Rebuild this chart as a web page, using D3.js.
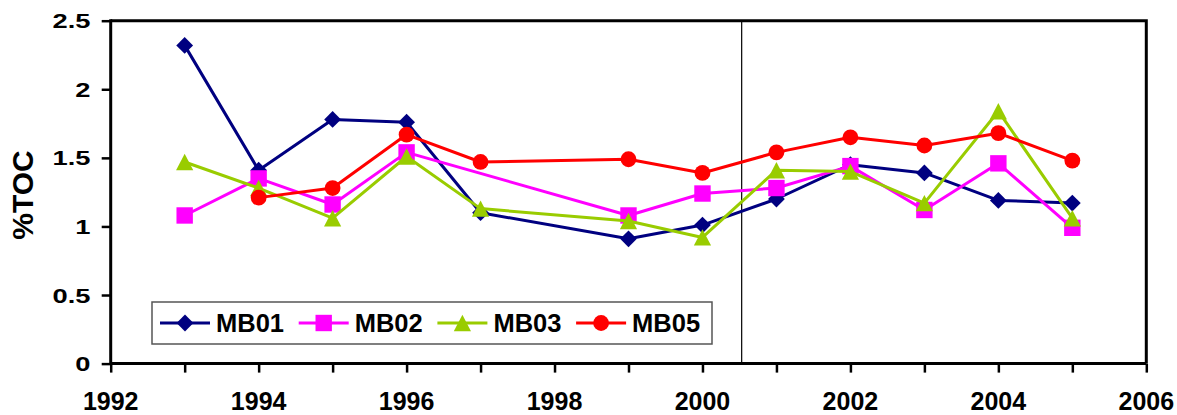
<!DOCTYPE html>
<html>
<head>
<meta charset="utf-8">
<script src="https://cdn.jsdelivr.net/npm/d3@7"></script>
<style>
  html, body { margin: 0; padding: 0; background: #fff; }
  svg { display: block; }
  text { font-family: "Liberation Sans", Arial, sans-serif; font-weight: bold; fill: #000; }
</style>
</head>
<body>
<svg id="chart" width="1177" height="415"></svg>
<script>
// ---- data ----
const years = [1993, 1994, 1995, 1996, 1997, 1999, 2000, 2001, 2002, 2003, 2004, 2005];
const seriesNames = ["MB01", "MB02", "MB03", "MB05"];
const mb01 = [2.32, 1.41, 1.78, 1.76, 1.10, 0.91, 1.01, 1.20, 1.45, 1.39, 1.19, 1.17];
const mb02 = [1.08, 1.35, 1.16, 1.54, null, 1.08, 1.24, 1.28, 1.44, 1.12, 1.46, 0.99];
const mb03 = [1.47, 1.28, 1.06, 1.51, 1.13, 1.04, 0.92, 1.41, 1.40, 1.17, 1.84, 1.06];
const mb05 = [null, 1.21, 1.28, 1.67, 1.47, 1.49, 1.39, 1.54, 1.65, 1.59, 1.68, 1.48];
const xTickYears = [1992, 1993, 1994, 1995, 1996, 1997, 1998, 1999, 2000, 2001, 2002, 2003, 2004, 2005, 2006];
const xLabelYears = [1992, 1994, 1996, 1998, 2000, 2002, 2004, 2006];
const yTicks = [0, 0.5, 1, 1.5, 2, 2.5];
const dividerYear = 2000.53;
const yTitle = "%TOC";

// ---- styles ----
const colors = { MB01: "#000080", MB02: "#FF00FF", MB03: "#99CC00", MB05: "#FF0000" };
const shapes = { MB01: "diamond", MB02: "square", MB03: "triangle", MB05: "circle" };
const valuesByName = { MB01: mb01, MB02: mb02, MB03: mb03, MB05: mb05 };

const svg = d3.select("#chart");
const plot = { left: 110.7, right: 1146.3, top: 20.7, bottom: 363.6 };

const x = d3.scaleLinear().domain([1992, 2006]).range([plot.left, plot.right]);
const y = d3.scaleLinear().domain([0, 2.5]).range([plot.bottom, plot.top]);

function markerPath(shape) {
  if (shape === "diamond") { const h = 8.4; return `M0,${-h}L${h},0L0,${h}L${-h},0Z`; }
  if (shape === "square") { const h = 8.2; return `M${-h},${-h}H${h}V${h}H${-h}Z`; }
  if (shape === "triangle") { const w = 8.6, h = 8.2; return `M0,${-h}L${w},${h}L${-w},${h}Z`; }
  const r = 7.9; return `M${r},0A${r},${r} 0 1,1 ${-r},0A${r},${r} 0 1,1 ${r},0Z`;
}

// divider line
svg.append("line")
  .attr("x1", x(dividerYear)).attr("x2", x(dividerYear))
  .attr("y1", y(2.5)).attr("y2", y(0))
  .attr("stroke", "#000").attr("stroke-width", 1.2);

// plot frame (top and right)
svg.append("path")
  .attr("d", `M${x(1992)},${y(2.5)}H${x(2006)}V${y(0)}`)
  .attr("fill", "none").attr("stroke", "#000").attr("stroke-width", 3);

// series
const line = d3.line().x(d => x(d.year)).y(d => y(d.value));
seriesNames.forEach(name => {
  const pts = years.map((yr, i) => ({ year: yr, value: valuesByName[name][i] }))
    .filter(d => d.value !== null);
  const g = svg.append("g");
  g.append("path").attr("d", line(pts))
    .attr("fill", "none").attr("stroke", colors[name]).attr("stroke-width", 3)
    .attr("stroke-linejoin", "round");
  g.selectAll("path.m").data(pts).join("path").attr("class", "m")
    .attr("d", markerPath(shapes[name]))
    .attr("transform", d => `translate(${x(d.year)},${y(d.value)})`)
    .attr("fill", colors[name]);
});

// axes
const xAxisG = svg.append("g").attr("transform", `translate(0,${y(0)})`)
  .call(d3.axisBottom(x).tickValues(xTickYears).tickSize(9).tickFormat(""));
xAxisG.select(".domain").attr("stroke-width", 3).attr("d", `M${x(1992)},0H${x(2006)}`);
xAxisG.selectAll(".tick line").attr("stroke-width", 2.5);

svg.append("g").selectAll("text").data(xLabelYears).join("text")
  .attr("x", d => x(d)).attr("y", 409.5)
  .attr("text-anchor", "middle").style("font-size", "25px")
  .text(d => d);

const yAxisG = svg.append("g").attr("transform", `translate(${x(1992)},0)`)
  .call(d3.axisLeft(y).tickValues(yTicks).tickSize(9).tickFormat(""));
yAxisG.select(".domain").attr("stroke-width", 3).attr("d", `M0,${y(0) + 1.5}V${y(2.5) - 1.5}`);
yAxisG.selectAll(".tick line").attr("stroke-width", 2.5);

svg.append("g").selectAll("text").data(yTicks).join("text")
  .attr("transform", d => `translate(90.5,${y(d) + 7.5}) scale(1.3,1)`)
  .attr("text-anchor", "end").style("font-size", "21px")
  .text(d => d3.format("")(d));

// y title
svg.append("text")
  .attr("transform", `translate(33,195) rotate(-90)`)
  .attr("text-anchor", "middle").style("font-size", "30px")
  .text(yTitle);

// legend
const legend = svg.append("g");
legend.append("rect")
  .attr("x", 152).attr("y", 302).attr("width", 560).attr("height", 42)
  .attr("fill", "#fff").attr("stroke", "#555").attr("stroke-width", 1.5);
seriesNames.forEach((name, i) => {
  const lx = 160 + i * 138.7;
  const ly = 323;
  legend.append("line").attr("x1", lx).attr("x2", lx + 50).attr("y1", ly).attr("y2", ly)
    .attr("stroke", colors[name]).attr("stroke-width", 3);
  legend.append("path").attr("d", markerPath(shapes[name]))
    .attr("transform", `translate(${lx + 25},${ly})`).attr("fill", colors[name]);
  legend.append("text").attr("x", lx + 56).attr("y", ly + 9.2)
    .style("font-size", "25.5px").text(name);
});
</script>
</body>
</html>
